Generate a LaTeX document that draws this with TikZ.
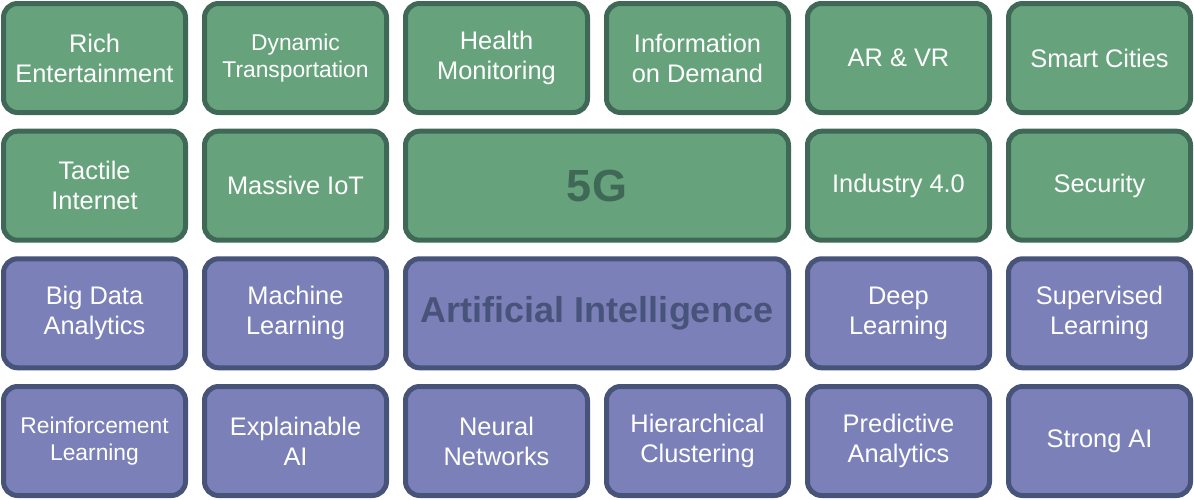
\documentclass[tikz,border=0pt]{standalone}
\usepackage{fontspec}
\setmainfont{Liberation Sans}
\definecolor{gfill}{RGB}{102,163,124}
\definecolor{gline}{RGB}{63,104,87}
\definecolor{pfill}{RGB}{123,129,184}
\definecolor{pline}{RGB}{72,83,122}
\tikzset{
  tile/.style={rounded corners=14pt, line width=5pt, minimum width=182pt, minimum height=109pt,
    align=center, text=white, inner sep=0pt, font=\fontsize{25.4}{30}\selectfont},
  gtile/.style={tile, fill=gfill, draw=gline},
  ptile/.style={tile, fill=pfill, draw=pline},
  small/.style={font=\fontsize{22.8}{27}\selectfont},
  wide/.style={minimum width=383pt},
  big/.style={font=\fontsize{36}{40}\selectfont\bfseries},
  huge/.style={font=\fontsize{45}{50}\selectfont\bfseries}
}
\begin{document}
\begin{tikzpicture}[x=1pt,y=-1pt]
\useasboundingbox (0,0) rectangle (1194,499);
% row 1
\node[gtile] (r1c1) at (94.5,58) {Rich\\Entertainment};
\node[gtile,small] (r1c2) at (295.5,58) {Dynamic\\Transportation};
\node[gtile] (r1c3) at (496.5,58) {Health\\Monitoring};
\node[gtile] (r1c4) at (697.5,58) {Information\\on Demand};
\node[gtile] (r1c5) at (898.5,58) {AR \& VR};
\node[gtile] (r1c6) at (1099.5,58) {Smart Cities};
% row 2
\node[gtile] (r2c1) at (94.5,185.7) {Tactile\\Internet};
\node[gtile] (r2c2) at (295.5,185.7) {Massive IoT};
\node[gtile,wide,huge,text=gline] (fiveg) at (597,185.7) {5G};
\node[gtile] (r2c5) at (898.5,185.7) {Industry 4.0};
\node[gtile] (r2c6) at (1099.5,185.7) {Security};
% row 3
\node[ptile] (r3c1) at (94.5,313.3) {Big Data\\Analytics};
\node[ptile] (r3c2) at (295.5,313.3) {Machine\\Learning};
\node[ptile,wide,big,text=pline] (ai) at (597,313.3) {Artificial Intelligence};
\node[ptile] (r3c5) at (898.5,313.3) {Deep\\Learning};
\node[ptile] (r3c6) at (1099.5,313.3) {Supervised\\Learning};
% row 4
\node[ptile,small] (r4c1) at (94.5,441) {Reinforcement\\Learning};
\node[ptile] (r4c2) at (295.5,441) {Explainable\\AI};
\node[ptile] (r4c3) at (496.5,441) {Neural\\Networks};
\node[ptile] (r4c4) at (697.5,441) {Hierarchical\\Clustering};
\node[ptile] (r4c5) at (898.5,441) {Predictive\\Analytics};
\node[ptile] (r4c6) at (1099.5,441) {Strong AI};
\end{tikzpicture}
\end{document}
